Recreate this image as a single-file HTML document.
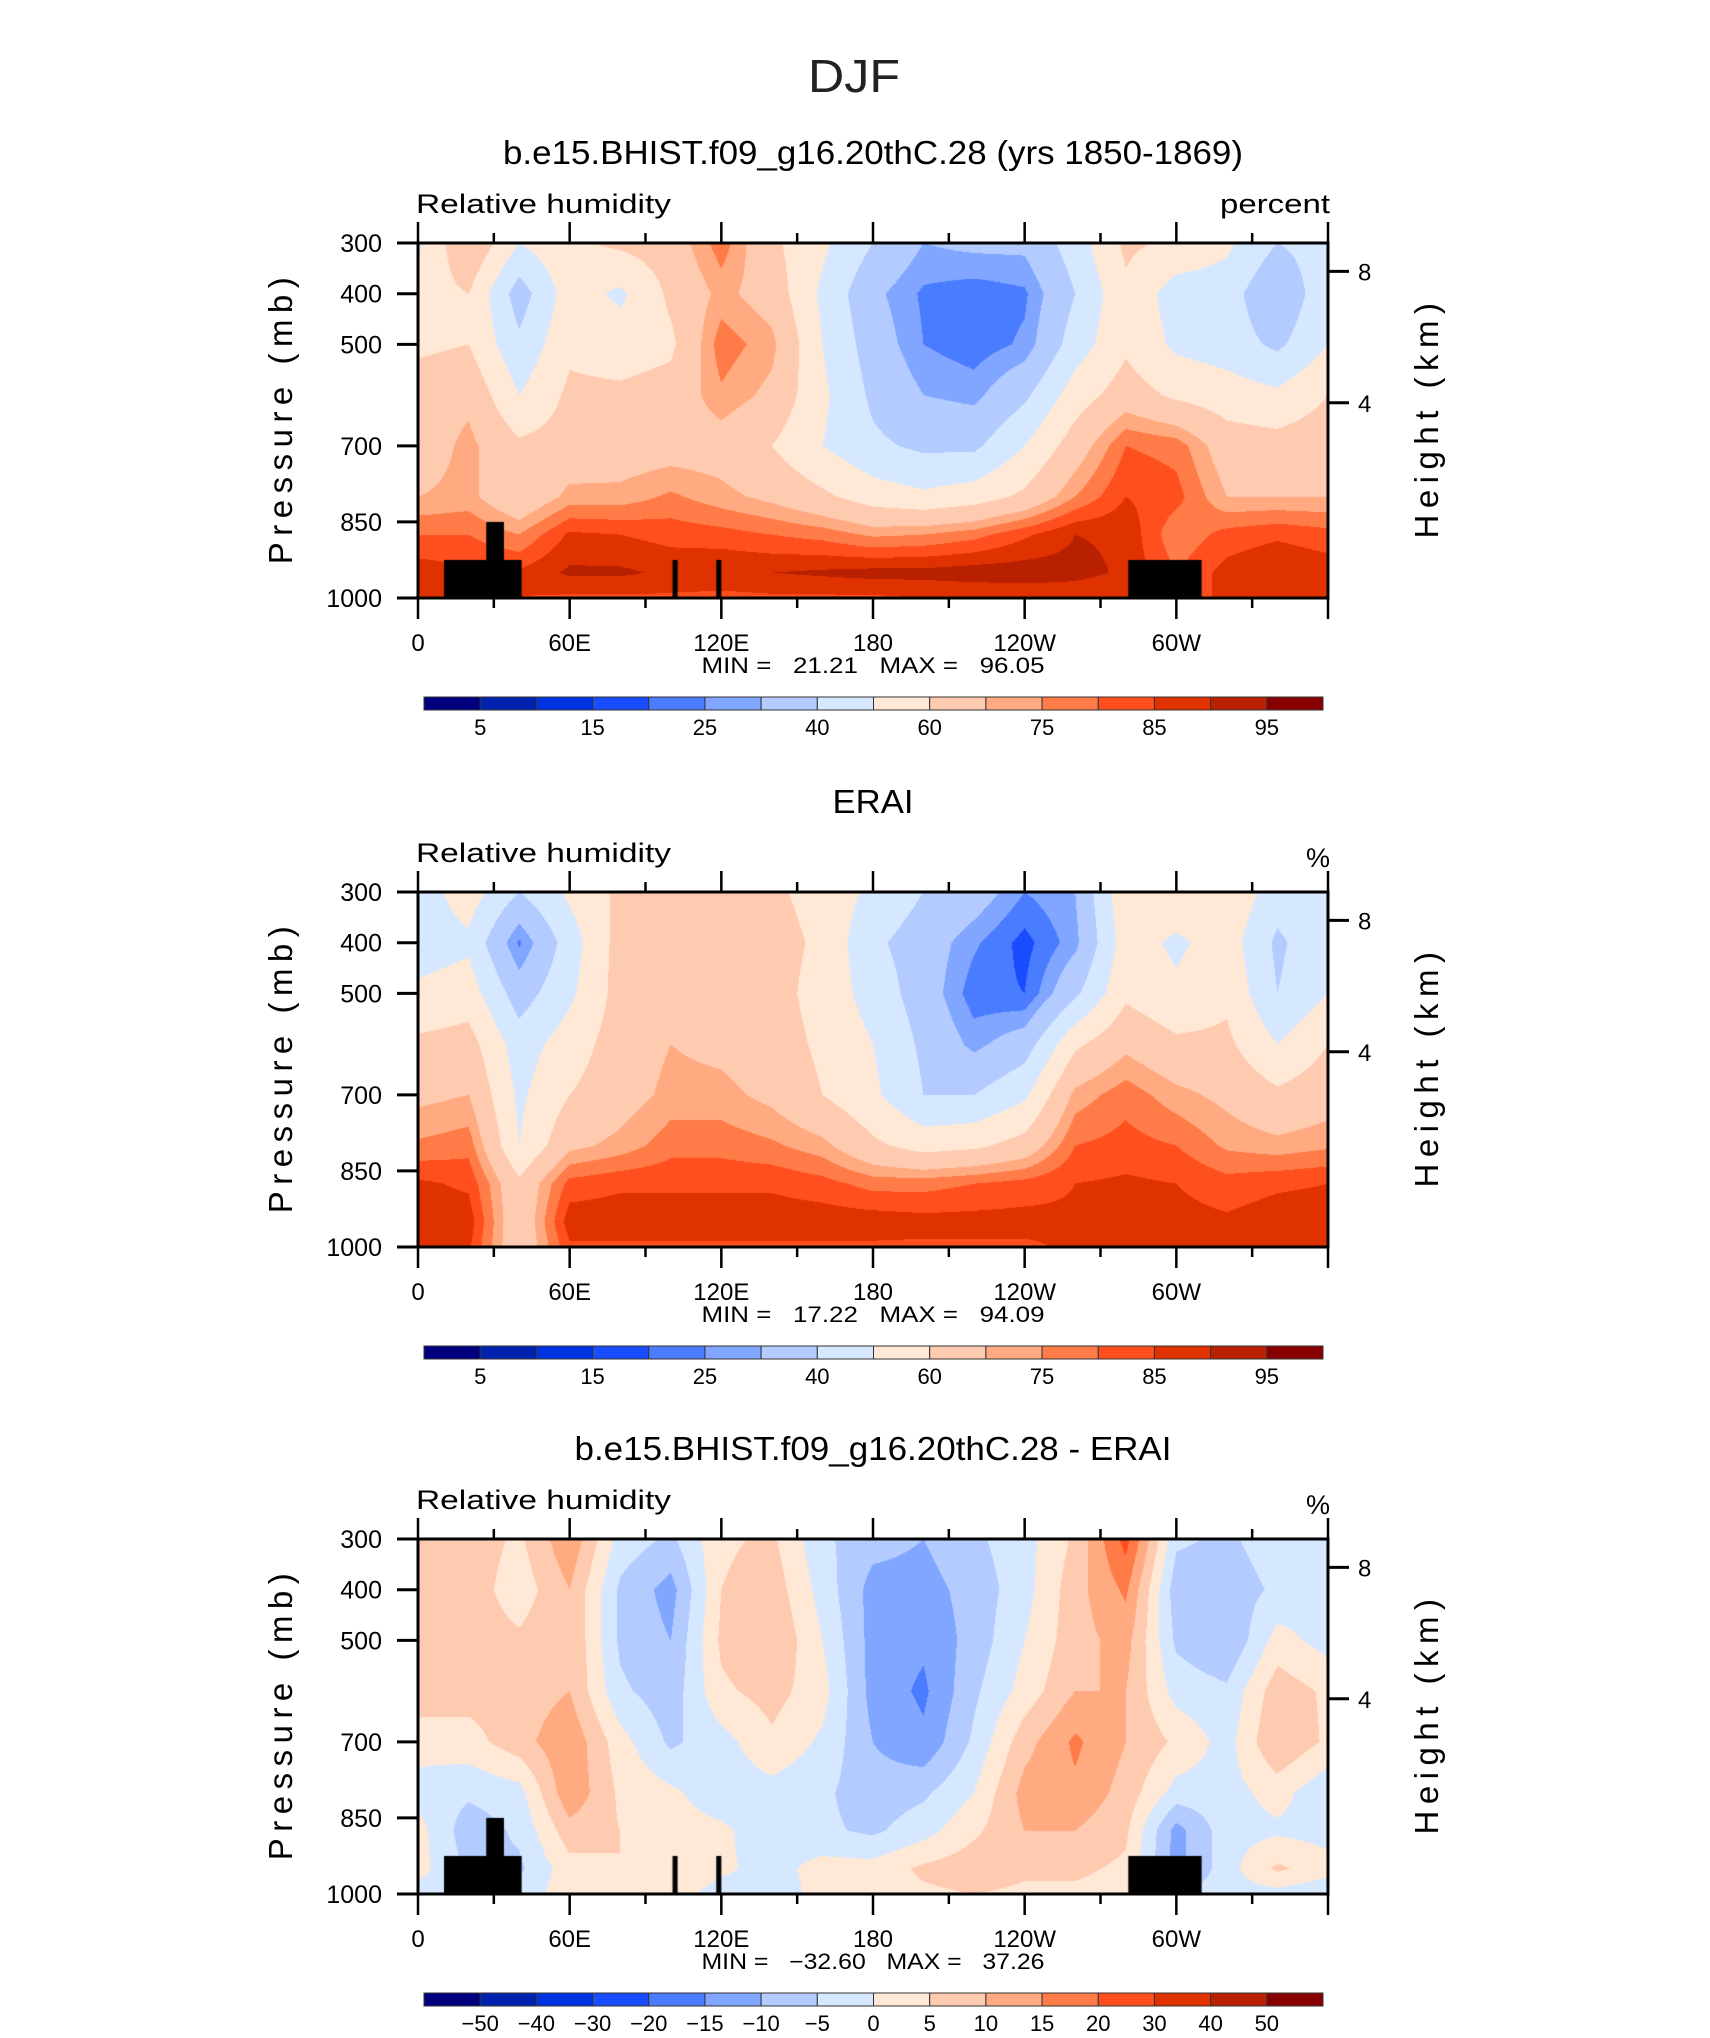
<!DOCTYPE html>
<html><head><meta charset="utf-8">
<style>
html,body{margin:0;padding:0;background:#fff;}
#root{position:relative;width:1710px;height:2038px;overflow:hidden;background:#fff;font-family:"Liberation Sans",sans-serif;}
canvas{position:absolute;}
svg{position:absolute;left:0;top:0;}
text{white-space:pre;}
</style></head>
<body>
<div id="root">
<svg id="svg" width="1710" height="2038"></svg>
</div>
<script>
// ---------- data ----------
const lonGrid = [0,20,40,60,80,100,120,140,160,180,200,220,240,260,280,300,320,340,360];
const presGrid = [300,400,500,600,700,800,875,950,1000];
const modelRH = [
 [48,70,50,58,62,65,78,62,52,40,30,32,32,45,62,58,52,40,45],
 [55,60,35,55,48,62,72,66,48,32,24,22,24,40,58,45,45,30,48],
 [58,60,42,58,55,58,78,72,50,35,25,22,26,45,58,48,45,38,50],
 [65,68,50,62,62,64,74,68,52,38,30,28,38,55,65,58,55,52,60],
 [65,72,62,64,65,66,66,60,50,42,38,38,50,65,80,78,65,64,66],
 [70,72,62,72,72,76,72,68,62,55,52,55,62,75,85,82,70,70,70],
 [80,80,75,86,85,83,82,80,78,74,75,78,84,90,89,76,82,84,82],
 [88,86,86,91,91,89,90,90,91,92,92,93,93,92,89,80,87,90,88],
 [85,85,85,84,84,84,83,84,84,84,85,85,86,86,85,85,85,85,85]
];
const eraRH = [
 [45,55,40,52,62,66,64,62,56,48,40,35,25,30,58,58,58,45,50],
 [45,48,24,45,64,66,66,64,58,42,35,26,18,28,55,48,55,38,48],
 [52,55,35,48,64,66,66,64,56,46,35,22,20,38,58,52,58,40,50],
 [62,64,45,55,65,70,68,65,58,50,38,28,35,58,68,62,62,50,60],
 [68,70,48,60,66,72,72,68,60,52,40,40,48,72,78,72,68,62,66],
 [76,78,50,68,72,78,78,76,72,62,56,58,64,80,82,80,74,72,74],
 [86,84,62,82,84,84,84,84,82,78,78,80,82,85,86,85,82,84,85],
 [88,88,62,88,88,88,88,88,88,88,87,87,87,86,86,87,86,88,88],
 [88,86,62,84,84,84,84,84,84,84,84,84,84,86,86,86,86,86,87]
];
const diffRH = [
 [6,8,4,14,-2,-6,4,6,-4,-8,-10,-6,-2,6,22,-4,-6,-2,-2],
 [7,8,2,10,-6,-12,5,8,-2,-12,-12,-8,-2,8,16,-8,-8,-4,-2],
 [8,8,6,10,-6,-10,6,10,0,-12,-14,-8,0,8,12,-6,-10,2,-2],
 [8,7,7,10,-4,-8,4,7,2,-12,-16,-6,2,10,10,-2,-4,8,4],
 [2,3,8,14,2,-6,-2,4,-1,-10,-14,-4,8,16,10,4,-2,10,4],
 [-2,-4,-2,14,4,1,-3,-2,-4,-8,-6,0,12,14,8,-2,-2,2,-4],
 [2,-8,-4,8,5,2,1,-3,-4,-6,-2,4,10,10,6,-12,-2,-1,-2],
 [2,-6,-6,3,5,4,1,-2,2,2,6,8,6,6,4,-12,-2,6,2],
 [-2,-3,-3,3,3,2,-2,-3,2,3,4,5,4,4,3,-5,-2,-2,-4]
];
const rhLevels = [5,10,15,20,25,30,40,50,60,70,75,80,85,90,95];
const diffLevels = [-50,-40,-30,-20,-15,-10,-5,0,5,10,15,20,30,40,50];
const rhLabels = ["5","15","25","40","60","75","85","95"];
const diffLabels = ["−50","−40","−30","−20","−15","−10","−5","0","5","10","15","20","30","40","50"];
const topoLon0 = [10.3,27,100.7,118,281];
const topoLon1 = [41,34,102.7,120,310];
const topoTop  = [925,850,925,925,925];
const xTickVals = [0,60,120,180,240,300];
const xTickLabels = ["0","60E","120E","180","120W","60W"];
const yTickVals = [300,400,500,700,850,1000];
const heightTickP = [356,615];
const heightTickLabels = ["8","4"];
const colors = ["#00007f","#0022b0","#0033e0","#1a4cff","#4a7cff","#80a6ff","#b3cbff","#d6e8ff",
 "#ffe9d6","#ffcbb0","#ffaa80","#ff7b47","#ff4f1f","#e03200","#b82000","#880000"];

// ---------- layout ----------
const PL=418, PW=910, PH=355;
const panelTops=[243,892,1539];
const xs = lon => PL + lon/360*PW;
const ys = (top,p) => top + (p-300)/700*PH;
const NS="http://www.w3.org/2000/svg";
const svg=document.getElementById('svg');
const root=document.getElementById('root');
function mk(tag,attrs,parent){const e=document.createElementNS(NS,tag);for(const k in attrs)e.setAttribute(k,attrs[k]);(parent||svg).appendChild(e);return e;}
function txt(s,attrs,parent){const e=mk('text',attrs,parent);e.textContent=s;return e;}
function hexToRgb(h){return [parseInt(h.substr(1,2),16),parseInt(h.substr(3,2),16),parseInt(h.substr(5,2),16)];}
const rgb=colors.map(hexToRgb);

function drawField(top,grid,levels,showTopo,idx){
  const c=document.createElement('canvas');
  
  
  c.width=PW;c.height=PH;c.style.left=PL+'px';c.style.top=top+'px';
  root.insertBefore(c,svg);
  const ctx=c.getContext('2d');const im=ctx.createImageData(PW,PH);
  for(let y=0;y<PH;y++){
    const p=300+(y+0.5)/PH*700;
    let r=0;while(r<presGrid.length-2&&p>presGrid[r+1])r++;
    const ty=(p-presGrid[r])/(presGrid[r+1]-presGrid[r]);
    for(let x=0;x<PW;x++){
      const lon=(x+0.5)/PW*360;
      let ci=Math.min(Math.floor(lon/20),lonGrid.length-2);
      const tx=(lon-lonGrid[ci])/(lonGrid[ci+1]-lonGrid[ci]);
      const v=(grid[r][ci]*(1-tx)+grid[r][ci+1]*tx)*(1-ty)+(grid[r+1][ci]*(1-tx)+grid[r+1][ci+1]*tx)*ty;
      let k=0;while(k<levels.length&&v>=levels[k])k++;
      const o=(y*PW+x)*4;const cc=rgb[k];
      im.data[o]=cc[0];im.data[o+1]=cc[1];im.data[o+2]=cc[2];im.data[o+3]=255;
    }
  }
  ctx.putImageData(im,0,0);
  if(showTopo){
    ctx.fillStyle='#000';
    for(let i=0;i<topoLon0.length;i++){
      const x0=topoLon0[i]/360*PW,x1=topoLon1[i]/360*PW,y0=(topoTop[i]-300)/700*PH;
      ctx.fillRect(x0,y0,x1-x0,PH-y0);
    }
  }
}

const fields=[modelRH,eraRH,diffRH];
const levs=[rhLevels,rhLevels,diffLevels];
const titles=["b.e15.BHIST.f09_g16.20thC.28 (yrs 1850-1869)","ERAI","b.e15.BHIST.f09_g16.20thC.28 - ERAI"];
const titleLen=[740,81,597];
const units=["percent","%","%"];
const minmax=[["21.21","96.05"],["17.22","94.09"],["−32.60","37.26"]];

const djf=txt("DJF",{x:854,y:92,'text-anchor':'middle','font-size':46,fill:'#222','textLength':92,'lengthAdjust':'spacingAndGlyphs'});



for(let i=0;i<3;i++){
  const top=panelTops[i], off=top-243;
  drawField(top,fields[i],levs[i],i!==1,i);
  const g=mk('g',{});
  
  
  const t=txt(titles[i],{x:873,y:164+off,'text-anchor':'middle','font-size':33,fill:'#000',textLength:titleLen[i],lengthAdjust:'spacingAndGlyphs'},g);
  
  
  const lt=txt("Relative humidity",{x:416,y:213+off,'font-size':27,fill:'#000',textLength:255,lengthAdjust:'spacingAndGlyphs'},g);
  
  
  const ua={x:1330,y:(i==0?213:218)+off,'text-anchor':'end','font-size':27,fill:'#000'};
  if(i==0){ua.textLength=110;ua.lengthAdjust='spacingAndGlyphs';}
  const ut=txt(units[i],ua,g);
  
  
  const fr=mk('rect',{x:PL,y:top,width:PW,height:PH,fill:'none',stroke:'#000','stroke-width':3},g);
  
  
  for(let lon=0;lon<=360;lon+=30){
    const major=lon%60===0, L=major?21:10, x=xs(lon);
    const tk=mk('line',{x1:x,x2:x,y1:top-L,y2:top,stroke:'#000','stroke-width':2.5},g);
    
    
    const tb=mk('line',{x1:x,x2:x,y1:top+PH,y2:top+PH+L,stroke:'#000','stroke-width':2.5},g);
    
    
  }
  for(let k=0;k<xTickVals.length;k++){
    const xl=txt(xTickLabels[k],{x:xs(xTickVals[k]),y:top+PH+53,'text-anchor':'middle','font-size':24,fill:'#000'},g);
    
    
  }
  for(let k=0;k<yTickVals.length;k++){
    const y=ys(top,yTickVals[k]);
    const yt=mk('line',{x1:PL-21,x2:PL,y1:y,y2:y,stroke:'#000','stroke-width':3},g);
    
    
    const yl=txt(String(yTickVals[k]),{x:PL-36,y:y+9,'text-anchor':'end','font-size':25,fill:'#000'},g);
    
    
  }
  for(let k=0;k<heightTickP.length;k++){
    const y=ys(top,heightTickP[k]);
    const ht=mk('line',{x1:PL+PW,x2:PL+PW+21,y1:y,y2:y,stroke:'#000','stroke-width':3},g);
    
    
    const hl=txt(heightTickLabels[k],{x:PL+PW+30,y:y+9,'font-size':24,fill:'#000'},g);
    
    
  }
  const cy=top+PH/2;
  const pa=txt("Pressure (mb)",{x:0,y:0,'text-anchor':'middle','font-size':33,fill:'#000','letter-spacing':'6.5',transform:`translate(292,${cy-3}) rotate(-90)`},g);
  
  
  const ha=txt("Height (km)",{x:0,y:0,'text-anchor':'middle','font-size':33,fill:'#000','letter-spacing':'6.5',transform:`translate(1438,${cy-3}) rotate(-90)`},g);
  
  
  const mm=txt(`MIN =   ${minmax[i][0]}   MAX =   ${minmax[i][1]}`,{x:873,y:top+PH+75,'text-anchor':'middle','font-size':22,fill:'#000',textLength:343,lengthAdjust:'spacingAndGlyphs'},g);
  
  
  const cb=mk('g',{},g);
  
  
  const cbx=424, cbw=899, cby=top+454, cbh=13, bw=cbw/16;
  for(let k=0;k<16;k++){
    const r=mk('rect',{x:cbx+k*bw,y:cby,width:bw,height:cbh,fill:colors[k],stroke:'#333','stroke-width':1},cb);
    
    
  }
  const labs = i<2 ? rhLabels : diffLabels;
  for(let k=0;k<labs.length;k++){
    const b = i<2 ? 1+2*k : 1+k;
    const cl=txt(labs[k],{x:cbx+b*bw,y:cby+cbh+25,'text-anchor':'middle','font-size':22,fill:'#000'},cb);
    
    
  }
}
</script>
</body></html>
